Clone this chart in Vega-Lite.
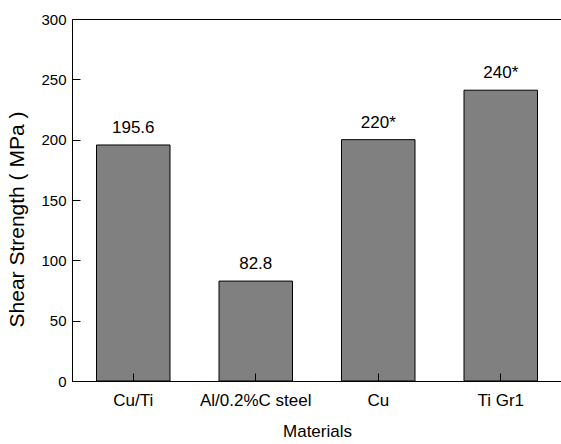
{
  "$schema": "https://vega.github.io/schema/vega-lite/v6.json",
  "width": 490,
  "height": 362,
  "autosize": {"type": "none"},
  "padding": {"left": 72, "top": 19, "right": 0, "bottom": 63},
  "config": {
    "view": {"stroke": "black", "strokeWidth": 1},
    "font": "Liberation Sans",
    "axis": {
      "domainColor": "black",
      "tickColor": "black",
      "labelColor": "black",
      "titleColor": "black",
      "grid": false,
      "labelFont": "Liberation Sans",
      "titleFont": "Liberation Sans",
      "titleFontWeight": "normal"
    }
  },
  "data": {
    "values": [
      {"material": "Cu/Ti", "strength": 195.6, "label": "195.6"},
      {"material": "Al/0.2%C steel", "strength": 82.8, "label": "82.8"},
      {"material": "Cu", "strength": 200, "label": "220*"},
      {"material": "Ti Gr1", "strength": 241, "label": "240*"}
    ]
  },
  "layer": [
    {
      "mark": {"type": "bar", "fill": "#808080", "stroke": "black", "strokeWidth": 1},
      "encoding": {
        "x": {
          "field": "material", "type": "nominal", "sort": null,
          "scale": {"paddingInner": 0.4, "paddingOuter": 0.2},
          "axis": {"orient": "bottom", "title": "Materials", "labelAngle": 0, "labelFontSize": 17, "titleFontSize": 17,
            "tickSize": {"condition": {"test": "true", "value": -8}, "value": -8},
            "labelPadding": 19, "titlePadding": 15, "zindex": 2}
        },
        "y": {
          "field": "strength", "type": "quantitative",
          "scale": {"domain": [0, 300], "nice": false},
          "axis": {"orient": "left", "title": "Shear Strength ( MPa )", "values": [0, 25, 50, 75, 100, 125, 150, 175, 200, 225, 250, 275, 300],
            "labelExpr": "datum.value % 50 === 0 ? datum.label : ''",
            "tickSize": {"condition": {"test": "datum.value % 50 === 0", "value": -8}, "value": -4},
            "labelFontSize": 15, "titleFontSize": 21, "labelPadding": 14, "titlePadding": 13, "titleY": 200, "zindex": 2}
        }
      }
    },
    {
      "mark": {"type": "text", "dy": -12, "baseline": "alphabetic", "fontSize": 17, "font": "Liberation Sans", "color": "black"},
      "encoding": {
        "x": {"field": "material", "type": "nominal", "sort": null},
        "y": {"field": "strength", "type": "quantitative"},
        "text": {"field": "label"}
      }
    }
  ]
}
